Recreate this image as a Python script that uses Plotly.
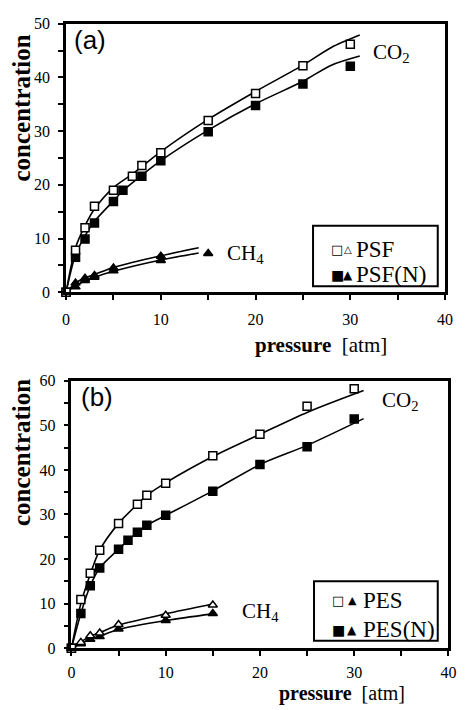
import plotly.graph_objects as go

# ---------------- Panel (a): PSF / PSF(N) ----------------
psf_co2_p = [0, 1, 2, 3, 5, 7, 8, 10, 15, 20, 25, 30]
psf_co2_c = [0, 7.8, 12, 16, 19, 21.6, 23.6, 26, 32, 37, 42.2, 46.2]
psfn_co2_p = [0, 1, 2, 3, 5, 6, 8, 10, 15, 20, 25, 30]
psfn_co2_c = [0, 6.5, 9.9, 12.9, 16.9, 19, 21.6, 24.5, 29.9, 34.8, 38.8, 42.1]
psf_ch4_p = [0, 1, 2, 3, 5, 10]
psf_ch4_c = [0, 1.7, 2.6, 3.1, 4.5, 6.7]
psfn_ch4_p = [0, 1, 2, 3, 5, 10, 15]
psfn_ch4_c = [0, 1.0, 2.2, 2.8, 4.0, 5.9, 7.2]

# fitted curves
psf_co2_fit_p = [0, 1, 2, 3, 5, 7, 8, 10, 15, 20, 25, 28, 31]
psf_co2_fit_c = [0, 8.3, 12.4, 15.5, 19.5, 22, 23.4, 26.2, 32.2, 37.4, 42.3, 45.6, 47.9]
psfn_co2_fit_p = [0, 1, 2, 3, 5, 6, 8, 10, 15, 20, 25, 28, 31]
psfn_co2_fit_c = [0, 7, 10.5, 13.2, 17, 18.9, 21.8, 24.5, 30.2, 35.1, 39.3, 42.3, 44]
psf_ch4_fit_p = [0, 1, 2, 3, 5, 10, 14]
psf_ch4_fit_c = [0, 1.7, 2.7, 3.3, 4.6, 6.8, 8.3]
psfn_ch4_fit_p = [0, 1, 2, 3, 5, 10, 14]
psfn_ch4_fit_c = [0, 1.2, 2.1, 2.8, 3.9, 6.0, 7.3]

# ---------------- Panel (b): PES / PES(N) ----------------
pes_co2_p = [0, 1, 2, 3, 5, 7, 8, 10, 15, 20, 25, 30]
pes_co2_c = [0, 10.9, 16.8, 22, 28, 32.3, 34.3, 37, 43.2, 48, 54.3, 58.2]
pesn_co2_p = [0, 1, 2, 3, 5, 6, 7, 8, 10, 15, 20, 25, 30]
pesn_co2_c = [0, 7.8, 14, 18, 22.2, 24.2, 26, 27.6, 29.8, 35.2, 41.2, 45.2, 51.4]
pes_ch4_p = [0, 1, 2, 3, 5, 10, 15]
pes_ch4_c = [0, 1.3, 2.8, 3.4, 5.3, 7.4, 9.7]
pesn_ch4_p = [0, 1, 2, 3, 5, 10, 15]
pesn_ch4_c = [0, 1.0, 2.0, 2.6, 4.3, 6.2, 7.8]

pes_co2_fit_p = [0, 1, 2, 3, 5, 7, 8, 10, 15, 20, 25, 31]
pes_co2_fit_c = [0, 10, 16.6, 22, 28, 32.3, 34.3, 37.1, 43, 48, 52.9, 57.8]
pesn_co2_fit_p = [0, 1, 2, 3, 5, 6, 7, 8, 10, 15, 20, 25, 31]
pesn_co2_fit_c = [0, 7.8, 14, 18, 22.2, 24.2, 26, 27.6, 29.8, 35.3, 41.2, 45.5, 51.5]
pes_ch4_fit_p = [0, 1, 2, 3, 5, 10, 15]
pes_ch4_fit_c = [0, 1.4, 2.7, 3.5, 5.2, 7.7, 9.9]
pesn_ch4_fit_p = [0, 1, 2, 3, 5, 10, 15]
pesn_ch4_fit_c = [0, 1.0, 2.0, 2.7, 4.2, 6.2, 7.7]

x_ticks = [0, 10, 20, 30, 40]
y_ticks_a = [0, 10, 20, 30, 40, 50]
y_ticks_b = [0, 10, 20, 30, 40, 50, 60]

SERIF = "Liberation Serif"
SANS = "Liberation Sans"
SYM = "DejaVu Sans"

fig = go.Figure()


def fit(x, y, xa, ya):
    fig.add_trace(go.Scatter(x=x, y=y, mode="lines", xaxis=xa, yaxis=ya,
                             line=dict(color="black", width=1.6, shape="spline", smoothing=0.8),
                             showlegend=False, hoverinfo="skip", cliponaxis=False))


def pts(x, y, xa, ya, symbol, filled, size=8):
    fig.add_trace(go.Scatter(x=x, y=y, mode="markers", xaxis=xa, yaxis=ya,
                             marker=dict(symbol=symbol, size=size,
                                         color="black" if filled else "white",
                                         line=dict(color="black", width=1.5)),
                             showlegend=False, cliponaxis=False))


# panel (a)
fit(psf_co2_fit_p, psf_co2_fit_c, "x", "y")
fit(psfn_co2_fit_p, psfn_co2_fit_c, "x", "y")
fit(psf_ch4_fit_p, psf_ch4_fit_c, "x", "y")
fit(psfn_ch4_fit_p, psfn_ch4_fit_c, "x", "y")
pts(psf_ch4_p, psf_ch4_c, "x", "y", "triangle-up", True, 8)
pts(psfn_ch4_p, psfn_ch4_c, "x", "y", "triangle-up", True, 8)
pts(psfn_co2_p, psfn_co2_c, "x", "y", "square", True, 8)
pts(psf_co2_p, psf_co2_c, "x", "y", "square", False, 8)

# panel (b)
fit(pes_co2_fit_p, pes_co2_fit_c, "x2", "y2")
fit(pesn_co2_fit_p, pesn_co2_fit_c, "x2", "y2")
fit(pes_ch4_fit_p, pes_ch4_fit_c, "x2", "y2")
fit(pesn_ch4_fit_p, pesn_ch4_fit_c, "x2", "y2")
pts(pesn_ch4_p, pesn_ch4_c, "x2", "y2", "triangle-up", True, 8)
pts(pes_ch4_p, pes_ch4_c, "x2", "y2", "triangle-up", False, 8)
pts(pesn_co2_p, pesn_co2_c, "x2", "y2", "square", True, 8)
pts(pes_co2_p, pes_co2_c, "x2", "y2", "square", False, 8)

W, H = 466, 710
OFF = 8  # default page body margin


def px(x):
    return (x - OFF) / W


def py(y):
    return 1 - (y - OFF) / H


axis_common = dict(showline=True, linecolor="black", linewidth=2.5, mirror=True,
                   ticks="outside", ticklen=5, tickwidth=1.5, tickcolor="black",
                   showgrid=False, zeroline=False,
                   minor=dict(dtick=5, ticks="outside", ticklen=5, tickwidth=1.5,
                              tickcolor="black", showgrid=False),
                   tickfont=dict(family=SERIF, size=16, color="black"))

fig.update_layout(
    width=W, height=H, margin=dict(l=0, r=0, t=0, b=0),
    paper_bgcolor="white", plot_bgcolor="white", showlegend=False,
    xaxis=dict(domain=[px(63.5), px(452.5)], range=[0, 40], anchor="y",
               tickvals=x_ticks, ticklabelstandoff=6, **axis_common),
    yaxis=dict(domain=[py(291), py(16)], range=[0, 50], anchor="x",
               tickvals=y_ticks_a, ticklabelstandoff=5, **axis_common),
    xaxis2=dict(domain=[px(69), px(456)], range=[0, 40], anchor="y2",
                tickvals=x_ticks, ticklabelstandoff=3, **axis_common),
    yaxis2=dict(domain=[py(655.7), py(381.7)], range=[0, 60], anchor="x2",
                tickvals=y_ticks_b, ticklabelstandoff=5, **axis_common),
)

ann = []


def text(x, y, t, size=17, family=SERIF, angle=0, xanchor="center"):
    ann.append(dict(x=px(x), y=py(y), xref="paper", yref="paper", text=t,
                    showarrow=False, xanchor=xanchor, yanchor="middle", textangle=angle,
                    font=dict(family=family, size=size, color="black")))


# panel labels
text(88, 33, "(a)", size=26, family=SANS)
text(95, 398, "(b)", size=26, family=SANS)
# gas labels
text(377, 46, "CO<sub>2</sub>", size=21, xanchor="left")
text(386, 402, "CO<sub>2</sub>", size=21, xanchor="left")
text(227, 252, "CH<sub>4</sub>", size=21, xanchor="left")
text(242, 619, "CH<sub>4</sub>", size=21, xanchor="left")
# axis titles
text(18, 102, "<b>concentration</b>", size=25, angle=-90)
text(18, 455, "<b>concentration</b>", size=25, angle=-90)
text(325, 345, "<b>pressure</b>  [atm]", size=21)
text(347, 702, "<b>pressure</b>  [atm]", size=20)

# legends (symbol glyphs + labels)
text(342, 247, "□", size=13, family=SYM)
text(353, 247, "△", size=10, family=SYM)
text(359, 247, "PSF", size=23, xanchor="left")
text(342, 273, "■", size=14, family=SYM)
text(353, 273, "▲", size=12, family=SYM)
text(359, 273, "PSF(N)", size=23, xanchor="left")

text(343, 607, "□", size=13, family=SYM)
text(357, 607, "▲", size=11, family=SYM)
text(366, 607, "PES", size=23, xanchor="left")
text(343, 637, "■", size=14, family=SYM)
text(357, 637, "▲", size=12, family=SYM)
text(366, 637, "PES(N)", size=23, xanchor="left")

shapes = [
    dict(type="rect", xref="paper", yref="paper", x0=px(317), x1=px(445), y0=py(285), y1=py(223),
         line=dict(color="black", width=2), fillcolor="white", layer="below"),
    dict(type="rect", xref="paper", yref="paper", x0=px(318), x1=px(445), y0=py(648), y1=py(587),
         line=dict(color="black", width=2), fillcolor="white", layer="below"),
]

fig.update_layout(annotations=ann, shapes=shapes)
fig.write_html("out.html")
